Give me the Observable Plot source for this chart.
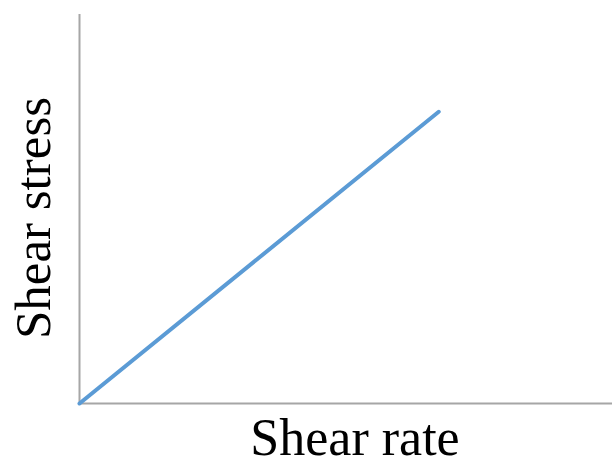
<!DOCTYPE html>
<html>
<head>
<meta charset="utf-8">
<script src="https://cdn.jsdelivr.net/npm/d3@7"></script>
<script src="https://cdn.jsdelivr.net/npm/@observablehq/plot@0.6"></script>
<style>
  html, body { margin: 0; padding: 0; background: #fff; }
</style>
</head>
<body>
<div id="chart"></div>
<script>
const shearRate = [0, 67.4];
const shearStress = [0, 75];
const xLabel = "Shear rate";
const yLabel = "Shear stress";

const data = shearRate.map((r, i) => ({rate: r, stress: shearStress[i]}));

const chart = Plot.plot({
  width: 612,
  height: 462,
  marginLeft: 79,
  marginRight: 0,
  marginTop: 14,
  marginBottom: 59,
  x: {domain: [0, 100], axis: null},
  y: {domain: [0, 100], axis: null},
  style: {fontFamily: "'Liberation Serif', 'Times New Roman', serif", background: "#fff"},
  marks: [
    Plot.ruleX([0], {stroke: "#a6a6a6", strokeWidth: 2}),
    Plot.ruleY([0], {stroke: "#a6a6a6", strokeWidth: 2}),
    Plot.line(data, {x: "rate", y: "stress", stroke: "#5b9bd5", strokeWidth: 4}),
    Plot.text([xLabel], {frameAnchor: "bottom", text: d => d, fontSize: 52, fill: "#000", dx: 9, dy: 35, textAnchor: "middle", lineAnchor: "middle"}),
    Plot.text([yLabel], {frameAnchor: "left", text: d => d, fontSize: 51, fill: "#000", rotate: -90, dx: -46, dy: 9, textAnchor: "middle", lineAnchor: "middle"})
  ]
});
document.getElementById("chart").appendChild(chart);
</script>
</body>
</html>
